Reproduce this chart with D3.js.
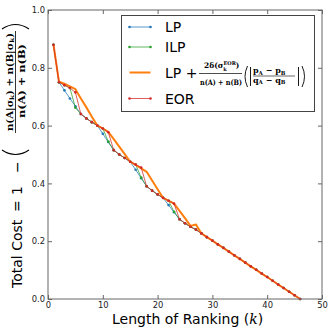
<!DOCTYPE html>
<html>
<head>
<meta charset="utf-8">
<script src="https://cdn.jsdelivr.net/npm/d3@7"></script>
<style>
  body { margin: 0; background: #fff; }
  svg { display: block; }
  .tick text { font-family: "DejaVu Sans", sans-serif; font-size: 8.4px; fill: #222; }
  .tick line { stroke: #666; }
  .lbl { font-family: "DejaVu Sans", sans-serif; font-size: 14px; fill: #000; }
  .mth { font-family: "DejaVu Serif", serif; font-weight: bold; fill: #000; }
</style>
</head>
<body>
<svg id="chart" width="332" height="333"></svg>
<script>
// ranking length k
const ranks = [1, 2, 3, 4, 5, 6, 7, 8, 9, 10, 11, 12, 13, 14, 15, 16, 17, 18, 19, 20, 21, 22, 23,
  24, 25, 26, 27, 28, 29, 30, 31, 32, 33, 34, 35, 36, 37, 38, 39, 40, 41, 42, 43, 44, 45, 46];

// total cost per k
const lpCost = [0.880, 0.750, 0.722, 0.694, 0.667, 0.640, 0.625, 0.612, 0.600, 0.572, 0.543, 0.515,
  0.500, 0.488, 0.475, 0.447, 0.418, 0.390, 0.375, 0.362, 0.350, 0.325, 0.300, 0.276, 0.262, 0.250,
  0.240, 0.227, 0.214, 0.202, 0.189, 0.177, 0.164, 0.151, 0.139, 0.126, 0.113, 0.101, 0.088, 0.076,
  0.063, 0.050, 0.038, 0.025, 0.013, 0.000];
const ilpCost = [0.880, 0.750, 0.740, 0.730, 0.662, 0.640, 0.625, 0.612, 0.600, 0.590, 0.545, 0.515,
  0.500, 0.488, 0.475, 0.465, 0.420, 0.390, 0.375, 0.362, 0.350, 0.340, 0.302, 0.276, 0.262, 0.250,
  0.240, 0.227, 0.214, 0.202, 0.189, 0.177, 0.164, 0.151, 0.139, 0.126, 0.113, 0.101, 0.088, 0.076,
  0.063, 0.050, 0.038, 0.025, 0.013, 0.000];
const lpRegCost = [0.880, 0.752, 0.745, 0.736, 0.726, 0.694, 0.663, 0.631, 0.600, 0.590, 0.578, 0.553,
  0.527, 0.501, 0.475, 0.464, 0.452, 0.440, 0.410, 0.380, 0.350, 0.340, 0.330, 0.305, 0.280, 0.253,
  0.258, 0.227, 0.214, 0.202, 0.189, 0.177, 0.164, 0.151, 0.139, 0.126, 0.113, 0.101, 0.088, 0.076,
  0.063, 0.050, 0.038, 0.025, 0.013, 0.000];
const eorCost = [0.880, 0.750, 0.740, 0.730, 0.715, 0.640, 0.625, 0.612, 0.600, 0.590, 0.577, 0.515,
  0.500, 0.488, 0.475, 0.465, 0.455, 0.390, 0.375, 0.362, 0.350, 0.340, 0.330, 0.276, 0.262, 0.250,
  0.240, 0.227, 0.214, 0.202, 0.189, 0.177, 0.164, 0.151, 0.139, 0.126, 0.113, 0.101, 0.088, 0.076,
  0.063, 0.050, 0.038, 0.025, 0.013, 0.000];

const xTicks = [0, 10, 20, 30, 40, 50];
const yTicks = [0.0, 0.2, 0.4, 0.6, 0.8, 1.0];

const series = [
  { name: "LP", values: lpCost, color: "#1f77b4", width: 1, dots: true },
  { name: "ILP", values: ilpCost, color: "#2ca02c", width: 1, dots: true },
  { name: "LPreg", values: lpRegCost, color: "#ff7f0e", width: 2, dots: false },
  { name: "EOR", values: eorCost, color: "#d62728", width: 1, dots: true }
];

const svg = d3.select("#chart");
const pLeft = 48, pRight = 322, pTop = 10, pBottom = 299;

const x = d3.scaleLinear().domain([0, 50]).range([pLeft, pRight]);
const y = d3.scaleLinear().domain([0, 1]).range([pBottom, pTop]);

// axes, ticks inside like old matplotlib
svg.append("g").attr("transform", "translate(0," + pBottom + ")")
  .call(d3.axisBottom(x).tickValues(xTicks).tickFormat(d3.format("d"))
    .tickSizeInner(-4).tickSizeOuter(0).tickPadding(3))
  .call(g => g.select(".domain").remove());
svg.append("g").attr("transform", "translate(0," + pTop + ")")
  .call(d3.axisTop(x).tickValues(xTicks).tickFormat("")
    .tickSizeInner(-4).tickSizeOuter(0))
  .call(g => g.select(".domain").remove());
svg.append("g").attr("transform", "translate(" + pLeft + ",0)")
  .call(d3.axisLeft(y).tickValues(yTicks).tickFormat(d3.format(".1f"))
    .tickSizeInner(-4).tickSizeOuter(0).tickPadding(3))
  .call(g => g.select(".domain").remove());
svg.append("g").attr("transform", "translate(" + pRight + ",0)")
  .call(d3.axisRight(y).tickValues(yTicks).tickFormat("")
    .tickSizeInner(-4).tickSizeOuter(0))
  .call(g => g.select(".domain").remove());

// lines
const line = d3.line().x((d, i) => x(ranks[i])).y(d => y(d));
series.forEach(s => {
  svg.append("path")
    .datum(s.values)
    .attr("fill", "none")
    .attr("stroke", s.color)
    .attr("stroke-width", s.width)
    .attr("stroke-opacity", s.dots ? 0.75 : 1)
    .attr("stroke-linejoin", "round")
    .attr("d", line);
  if (s.dots) {
    svg.append("g").selectAll("circle").data(s.values).join("circle")
      .attr("cx", (d, i) => x(ranks[i]))
      .attr("cy", d => y(d))
      .attr("r", 1.3)
      .attr("fill", s.color);
  }
});

// frame
svg.append("rect")
  .attr("x", pLeft).attr("y", pTop)
  .attr("width", pRight - pLeft).attr("height", pBottom - pTop)
  .attr("fill", "none").attr("stroke", "#666").attr("stroke-width", 1);

// legend
const leg = svg.append("g");
leg.append("rect")
  .attr("x", 121.5).attr("y", 15.5).attr("width", 193).attr("height", 96)
  .attr("fill", "#fff").attr("stroke", "#444").attr("stroke-width", 1);
const legY = [27, 47, 72.5, 98.5];
series.forEach((s, i) => {
  leg.append("line")
    .attr("x1", 129.5).attr("x2", 150.5)
    .attr("y1", legY[i]).attr("y2", legY[i])
    .attr("stroke", s.color).attr("stroke-width", s.width)
    .attr("stroke-opacity", s.dots ? 0.75 : 1);
  if (s.dots) {
    [129.5, 150.5].forEach(cx => leg.append("circle")
      .attr("cx", cx).attr("cy", legY[i]).attr("r", 1.3).attr("fill", s.color));
  }
});
leg.append("text").attr("class", "lbl").attr("x", 165).attr("y", legY[0] + 5).text("LP");
leg.append("text").attr("class", "lbl").attr("x", 165).attr("y", legY[1] + 5).text("ILP");
leg.append("text").attr("class", "lbl").attr("x", 165).attr("y", legY[3] + 5).text("EOR");
leg.append("text").attr("class", "lbl").attr("x", 165).attr("y", legY[2] + 5).text("LP +");

// LP + 2δ(σ_k^EOR)/(n(A)+n(B)) (|(pA−pB)/(qA−qB)|)
const m = leg.append("g");
const num1 = m.append("text").attr("class", "mth").attr("font-size", 7.5).attr("x", 204).attr("y", 68);
num1.append("tspan").text("2δ(σ");
num1.append("tspan").attr("font-size", 5).attr("dy", 2.5).text("k");
num1.append("tspan").attr("font-size", 5).attr("dx", -3.3).attr("dy", -5.5).text("EOR");
num1.append("tspan").attr("dy", 3).text(")");
m.append("line").attr("x1", 199).attr("x2", 242).attr("y1", 73.5).attr("y2", 73.5)
  .attr("stroke", "#000").attr("stroke-width", 0.7);
m.append("text").attr("class", "mth").attr("font-size", 7.5).attr("x", 200).attr("y", 84.5)
  .attr("textLength", 42).attr("lengthAdjust", "spacingAndGlyphs").text("n(A) + n(B)");
m.append("path").attr("d", "M247.5,66 Q242.5,76.5 247.5,87")
  .attr("fill", "none").attr("stroke", "#000").attr("stroke-width", 0.9);
m.append("line").attr("x1", 250.5).attr("x2", 250.5).attr("y1", 67).attr("y2", 86)
  .attr("stroke", "#000").attr("stroke-width", 0.9);
const num2 = m.append("text").attr("class", "mth").attr("font-size", 8).attr("x", 253).attr("y", 73);
num2.append("tspan").text("p");
num2.append("tspan").attr("font-size", 5.5).attr("dy", 1.5).text("A");
num2.append("tspan").attr("dy", -1.5).text(" − p");
num2.append("tspan").attr("font-size", 5.5).attr("dy", 1.5).text("B");
m.append("line").attr("x1", 253).attr("x2", 295).attr("y1", 76).attr("y2", 76)
  .attr("stroke", "#000").attr("stroke-width", 0.6);
const den2 = m.append("text").attr("class", "mth").attr("font-size", 8).attr("x", 253).attr("y", 82.5);
den2.append("tspan").text("q");
den2.append("tspan").attr("font-size", 5.5).attr("dy", 1.5).text("A");
den2.append("tspan").attr("dy", -1.5).text(" − q");
den2.append("tspan").attr("font-size", 5.5).attr("dy", 1.5).text("B");
m.append("line").attr("x1", 298.5).attr("x2", 298.5).attr("y1", 67).attr("y2", 86)
  .attr("stroke", "#000").attr("stroke-width", 0.9);
m.append("path").attr("d", "M302,66 Q307,76.5 302,87")
  .attr("fill", "none").attr("stroke", "#000").attr("stroke-width", 0.9);

// x label
const xl = svg.append("text").attr("class", "lbl").attr("x", 112).attr("y", 324);
xl.append("tspan").text("Length of Ranking (");
xl.append("tspan").attr("font-family", "DejaVu Serif").attr("font-style", "italic").text("k");
xl.append("tspan").text(")");

// y label, rotated
const yl = svg.append("g").attr("transform", "translate(21.5,288) rotate(-90)");
yl.append("text").attr("class", "lbl").attr("x", 0).attr("y", 0).text("Total Cost");
yl.append("text").attr("class", "lbl").attr("x", 76).attr("y", 0).text("=");
yl.append("text").attr("class", "lbl").attr("x", 93).attr("y", 0).text("1");
yl.append("text").attr("class", "lbl").attr("x", 115).attr("y", 0).text("−");
yl.append("path").attr("d", "M138,-19.5 Q129,-6 138,7.5")
  .attr("fill", "none").attr("stroke", "#000").attr("stroke-width", 1.1);
const yn = yl.append("text").attr("class", "mth").attr("font-size", 8.5).attr("x", 157).attr("y", -9)
  .attr("textLength", 98).attr("lengthAdjust", "spacingAndGlyphs");
yn.append("tspan").text("n(A|σ");
yn.append("tspan").attr("font-size", 6).attr("dy", 1.5).text("k");
yn.append("tspan").attr("dy", -1.5).text(") + n(B|σ");
yn.append("tspan").attr("font-size", 6).attr("dy", 1.5).text("k");
yn.append("tspan").attr("dy", -1.5).text(")");
yl.append("line").attr("x1", 155).attr("x2", 257).attr("y1", -6).attr("y2", -6)
  .attr("stroke", "#000").attr("stroke-width", 0.8);
yl.append("text").attr("class", "mth").attr("font-size", 8.5).attr("x", 170).attr("y", 3.5)
  .attr("textLength", 74).attr("lengthAdjust", "spacingAndGlyphs").text("n(A) + n(B)");
yl.append("path").attr("d", "M259,-19.5 Q268,-6 259,7.5")
  .attr("fill", "none").attr("stroke", "#000").attr("stroke-width", 1.1);
</script>
</body>
</html>
